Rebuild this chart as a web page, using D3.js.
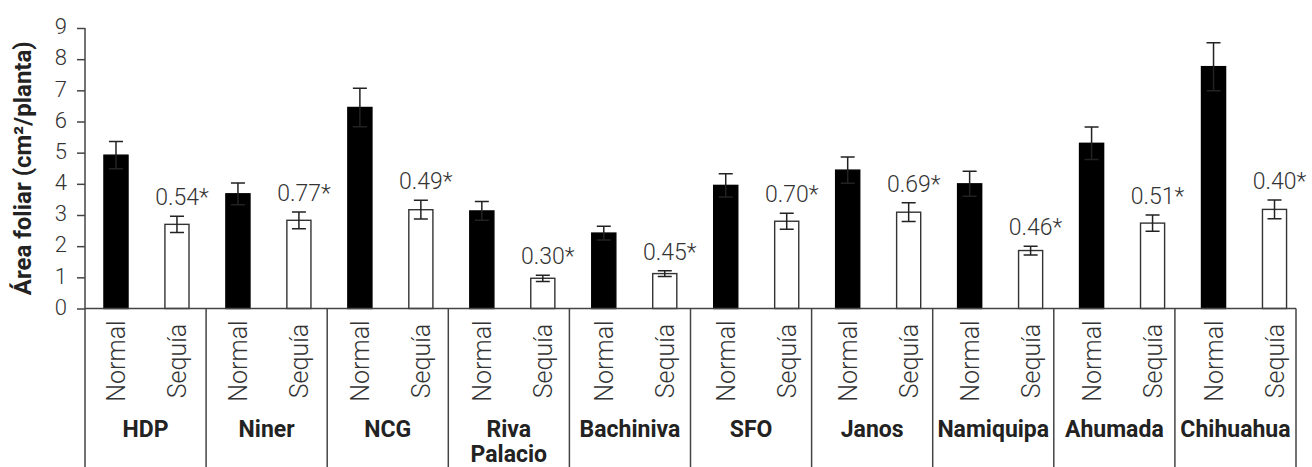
<!DOCTYPE html>
<html>
<head>
<meta charset="utf-8">
<script src="https://cdn.jsdelivr.net/npm/d3@7"></script>
<style>
  html, body { margin: 0; padding: 0; background: #fff; }
  svg { display: block; font-family: Roboto, "Noto Sans", sans-serif; }
  .light { font-family: "Roboto Light", Roboto, "Noto Sans", sans-serif; font-weight: 300; }
</style>
</head>
<body>
<svg id="chart" width="1312" height="467"></svg>
<script>
// Leaf area per plant (cm²) for ten populations under normal irrigation and drought
const populations = ["HDP", "Niner", "NCG", "Riva Palacio", "Bachiniva", "SFO", "Janos", "Namiquipa", "Ahumada", "Chihuahua"];
const treatments = ["Normal", "Sequía"];
const normalMean = [4.92, 3.68, 6.45, 3.13, 2.42, 3.95, 4.44, 4.00, 5.30, 7.76];
const normalErr  = [0.44, 0.35, 0.62, 0.30, 0.22, 0.37, 0.42, 0.40, 0.52, 0.77];
const droughtMean = [2.70, 2.83, 3.17, 0.97, 1.12, 2.80, 3.09, 1.86, 2.74, 3.18];
const droughtErr  = [0.26, 0.27, 0.30, 0.10, 0.09, 0.26, 0.30, 0.14, 0.26, 0.30];
const ratioLabels = ["0.54*", "0.77*", "0.49*", "0.30*", "0.45*", "0.70*", "0.69*", "0.46*", "0.51*", "0.40*"];
const yTicks = [0, 1, 2, 3, 4, 5, 6, 7, 8, 9];
const yTitle = "Área foliar (cm²/planta)";

const svg = d3.select("#chart");
const axisColor = "#444";
const textColor = "#333";

// one entry per bar, in drawing order
const bars = [];
populations.forEach((p, i) => {
  bars.push({ key: p + "|N", pop: p, treat: treatments[0], v: normalMean[i], e: normalErr[i], i });
  bars.push({ key: p + "|S", pop: p, treat: treatments[1], v: droughtMean[i], e: droughtErr[i], i, label: ratioLabels[i] });
});

const y = d3.scaleLinear().domain([0, 9]).range([308.5, 28]);
const xBar = d3.scaleBand().domain(bars.map(d => d.key)).range([85.5, 1305]).paddingInner(0.605).paddingOuter(0.3025);
const xGroup = d3.scaleBand().domain(populations).range([85, 1296]);

// y axis
const yAxis = d3.axisLeft(y).tickValues(yTicks).tickSize(8).tickPadding(10).tickFormat(d3.format("d"));
const gy = svg.append("g").attr("transform", "translate(85,0)").call(yAxis);
gy.select(".domain").attr("stroke", axisColor).attr("stroke-width", 1.5).attr("d", `M0,${y(9)}V${y(0)}`);
gy.selectAll(".tick line").attr("stroke", axisColor).attr("stroke-width", 1.5);
gy.attr("font-family", null);
gy.selectAll(".tick text")
  .attr("class", "light")
  .attr("fill", textColor).style("font-size", "22px")
  .attr("dy", "0.26em");

// y axis title
svg.append("text")
  .attr("transform", `translate(31,${(y(0) + y(9)) / 2}) rotate(-90)`)
  .attr("text-anchor", "middle")
  .attr("fill", "#222")
  .style("font-size", "24px").style("font-weight", 700)
  .text(yTitle);

// bars
svg.append("g").selectAll("rect").data(bars).join("rect")
  .attr("x", d => xBar(d.key))
  .attr("width", xBar.bandwidth())
  .attr("y", d => y(d.v))
  .attr("height", d => y(0) - y(d.v))
  .attr("fill", d => d.treat === "Normal" ? "#000" : "#fff")
  .attr("stroke", d => d.treat === "Normal" ? "#000" : "#333")
  .attr("stroke-width", 1.4);

// error bars
const eb = svg.append("g").attr("stroke", "#222").attr("stroke-width", 1.5).attr("fill", "none");
eb.selectAll("path").data(bars).join("path")
  .attr("d", d => {
    const cx = xBar(d.key) + xBar.bandwidth() / 2;
    const t = y(d.v + d.e), b = y(d.v - d.e), w = 7;
    return `M${cx - w},${t}H${cx + w}M${cx},${t}V${b}M${cx - w},${b}H${cx + w}`;
  });

// ratio labels above drought bars
svg.append("g").selectAll("text").data(bars.filter(d => d.label)).join("text")
  .attr("class", "light")
  .attr("x", d => xBar(d.key) + xBar.bandwidth() / 2 + 5)
  .attr("y", d => y(d.v + d.e) - 11)
  .attr("text-anchor", "middle")
  .attr("fill", textColor)
  .style("font-size", "23px")
  .text(d => d.label);

// baseline and category table below the plot
const table = svg.append("g").attr("stroke", axisColor).attr("stroke-width", 1.5);
table.append("line").attr("x1", 85).attr("x2", xGroup.range()[1]).attr("y1", y(0)).attr("y2", y(0));
const dividers = populations.map(p => xGroup(p)).concat([xGroup.range()[1]]);
table.selectAll("line.div").data(dividers).join("line").attr("class", "div")
  .attr("x1", d => d).attr("x2", d => d).attr("y1", y(0)).attr("y2", 467);

// treatment labels, rotated
svg.append("g").selectAll("text").data(bars).join("text")
  .attr("class", "light")
  .attr("transform", d => `translate(${xBar(d.key) + xBar.bandwidth() / 2},361) rotate(-90)`)
  .attr("text-anchor", "middle")
  .attr("dy", "0.36em")
  .attr("fill", textColor)
  .style("font-size", "25px")
  .text(d => d.treat);

// population labels, one text per line so long names wrap onto two rows
const popLines = [];
populations.forEach(p => p.split(" ").forEach((w, k) => popLines.push({ p, w, k })));
svg.append("g").selectAll("text").data(popLines).join("text")
  .attr("x", d => xGroup(d.p) + xGroup.bandwidth() / 2)
  .attr("y", d => 437 + d.k * 25)
  .attr("text-anchor", "middle")
  .attr("fill", "#222")
  .style("font-size", "23px").style("font-weight", 700)
  .text(d => d.w);
</script>
</body>
</html>
